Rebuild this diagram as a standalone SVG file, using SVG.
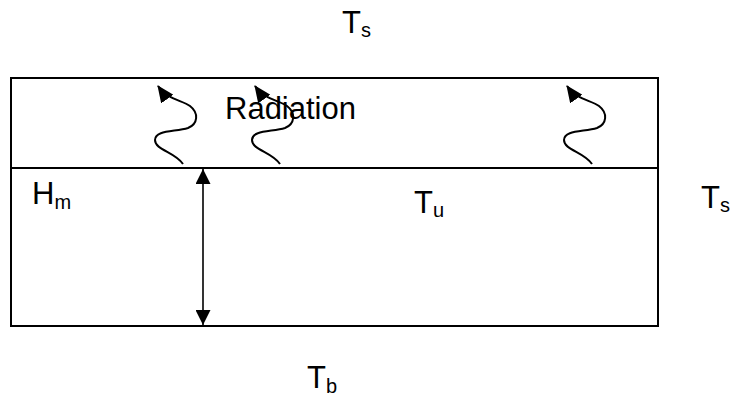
<svg xmlns="http://www.w3.org/2000/svg" width="734" height="397" viewBox="0 0 734 397">
<style>
.box{fill:none;stroke:#000;stroke-width:2}
.lbl{font-family:"Liberation Sans",Arial,sans-serif;font-size:31px;fill:#000}
.sub{font-size:20px}
.wave{fill:none;stroke:#000;stroke-width:2}
.dim{stroke:#000;stroke-width:1.6}
</style>
<defs>
<marker id="ah" markerWidth="17" markerHeight="15" refX="16" refY="7.5" orient="auto" markerUnits="userSpaceOnUse">
<path d="M0,0 L17,7.5 L0,15 Z" fill="#000"/>
</marker>
<marker id="ah2" markerWidth="15" markerHeight="15" refX="15" refY="7.5" orient="auto-start-reverse" markerUnits="userSpaceOnUse">
<path d="M0,0 L15,7.5 L0,15 Z" fill="#000"/>
</marker>
<path id="wv" d="M183,164 C175,152 155,150 155,140 C155,130 175,132 188,128 C198,124 199,113 190,106 C182,100 168,100 158,86"/>
</defs>
<g id="tank">
<rect class="box" x="11" y="78" width="647" height="248"/>
<line class="box" x1="11" y1="168" x2="658" y2="168"/>
</g>
<g id="labels">
<text class="lbl" x="225" y="119">Radiation</text>
<text class="lbl" x="342" y="33">T<tspan class="sub" dy="4">s</tspan></text>
<text class="lbl" x="32" y="204">H<tspan class="sub" dy="5">m</tspan></text>
<text class="lbl" x="414" y="213">T<tspan class="sub" dy="4">u</tspan></text>
<text class="lbl" x="701" y="208">T<tspan class="sub" dy="4">s</tspan></text>
<text class="lbl" x="307" y="388">T<tspan class="sub" dy="5">b</tspan></text>
</g>
<g id="connectors">
<use href="#wv" class="wave" marker-end="url(#ah)"/>
<use href="#wv" class="wave" marker-end="url(#ah)" transform="translate(97,0)"/>
<use href="#wv" class="wave" marker-end="url(#ah)" transform="translate(409,0)"/>
<line class="dim" x1="203" y1="169" x2="203" y2="325" marker-start="url(#ah2)" marker-end="url(#ah2)"/>
</g>
</svg>
